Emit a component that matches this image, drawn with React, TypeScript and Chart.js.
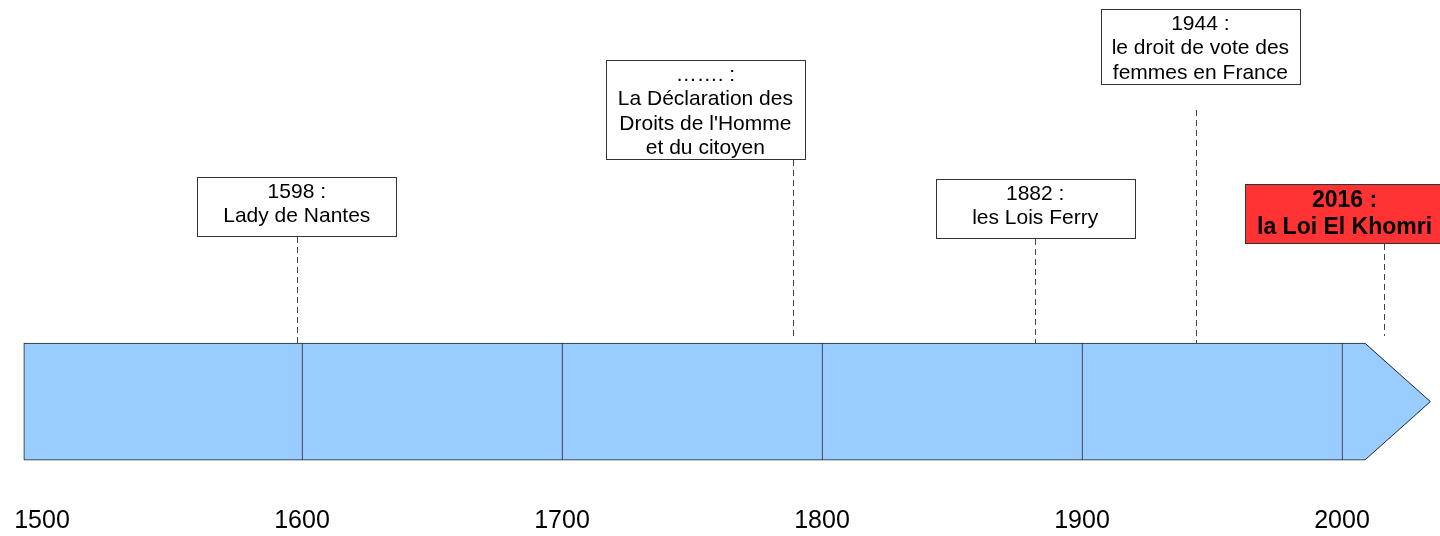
import React, { useEffect, useRef } from 'react';
import { Chart, registerables } from 'chart.js';

Chart.register(...registerables);

// ---------- data ----------
const centuryTicks = [1500, 1600, 1700, 1800, 1900, 2000];
const timelineStart = 1493;
const timelineEnd = 2009;
const arrowTip = 2034;
const eventYears = [1598, 1789, 1882, 1944, 2016];
const eventTitles = ['1598 :', '……. :', '1882 :', '1944 :', '2016 :'];
const eventTexts = [
  ['Lady de Nantes'],
  ['La Déclaration des', "Droits de l'Homme", 'et du citoyen'],
  ['les Lois Ferry'],
  ['le droit de vote des', 'femmes en France'],
  ['la Loi El Khomri'],
];
const eventHighlight = [false, false, false, false, true];

// ---------- layout / style ----------
const X_MIN = 1483.85;
const X_MAX = 2037.7;
const BAR_LEVEL = 17.7;
const BAR_THICKNESS = 117;
const BOX_W = 199;
const FONT = '"Liberation Sans", Arial, sans-serif';
const boxLayout: { dx: number; top: number; h: number; lineTop?: number; gap?: number }[] = [
  { dx: 0, top: 177, h: 59 },
  { dx: -88, top: 60, h: 99, gap: 5 },
  { dx: 0, top: 179, h: 59 },
  { dx: 4, top: 9, h: 75, lineTop: 110 },
  { dx: -39, top: 184, h: 59, gap: 7 },
];

const decorPlugin = {
  id: 'timelineDecor',
  afterDatasetsDraw(chart: any) {
    const ctx: CanvasRenderingContext2D = chart.ctx;
    const xs = chart.scales.x;
    const els = chart.getDatasetMeta(0).data;
    const last = els[els.length - 1];
    const { y: midY, height } = last.getProps(['y', 'height'], true);
    const barTop = midY - height / 2;
    const barBot = midY + height / 2;
    const endX = xs.getPixelForValue(timelineEnd);
    const tipX = xs.getPixelForValue(arrowTip);

    ctx.save();
    // arrow head
    ctx.beginPath();
    ctx.moveTo(endX - 1, barTop + 0.5);
    ctx.lineTo(endX, barTop + 0.5);
    ctx.lineTo(tipX, midY);
    ctx.lineTo(endX, barBot - 0.5);
    ctx.lineTo(endX - 1, barBot - 0.5);
    ctx.closePath();
    ctx.fillStyle = '#99CCFF';
    ctx.fill();
    ctx.beginPath();
    ctx.moveTo(endX - 1, barTop + 0.5);
    ctx.lineTo(endX, barTop + 0.5);
    ctx.lineTo(tipX, midY);
    ctx.lineTo(endX, barBot - 0.5);
    ctx.lineTo(endX - 1, barBot - 0.5);
    ctx.strokeStyle = '#222';
    ctx.lineWidth = 1;
    ctx.stroke();

    eventYears.forEach((yr, i) => {
      const L = boxLayout[i];
      const px = xs.getPixelForValue(yr);
      const cx = px + L.dx;
      const left = Math.round(cx - BOX_W / 2) + 0.5;
      const top = L.top + 0.5;
      // dashed connector
      ctx.save();
      ctx.setLineDash([6, 4]);
      ctx.strokeStyle = '#444';
      ctx.lineWidth = 1;
      const lx = Math.round(px) + 0.5;
      ctx.beginPath();
      ctx.moveTo(lx, L.lineTop ?? L.top + L.h + 1);
      ctx.lineTo(lx, barTop - (L.gap ?? 0));
      ctx.stroke();
      ctx.restore();
      // box
      const bold = eventHighlight[i];
      ctx.fillStyle = bold ? '#FF3333' : '#FFFFFF';
      ctx.fillRect(left, top, BOX_W, L.h);
      ctx.strokeStyle = '#333';
      ctx.lineWidth = 1;
      ctx.strokeRect(left, top, BOX_W, L.h);
      // text
      const size = bold ? 23 : 21;
      const lh = bold ? 26.7 : 24.4;
      const first = bold ? 23 : 21;
      ctx.font = `${bold ? 'bold ' : ''}${size}px ${FONT}`;
      ctx.fillStyle = '#000';
      ctx.textAlign = 'center';
      ctx.textBaseline = 'alphabetic';
      [eventTitles[i], ...eventTexts[i]].forEach((t, k) => {
        ctx.fillText(t, cx, L.top + first + k * lh);
      });
    });
    ctx.restore();
  },
};

export default function App() {
  const ref = useRef<HTMLCanvasElement>(null);
  useEffect(() => {
    document.body.style.margin = '0';
    const bounds = [timelineStart, ...centuryTicks.slice(1), timelineEnd];
    const segments = bounds.slice(0, -1).map((a, i) => ({ x: [a, bounds[i + 1]], y: BAR_LEVEL }));
    const chart = new Chart(ref.current as HTMLCanvasElement, {
      type: 'bar',
      data: {
        datasets: [
          {
            data: segments as any,
            backgroundColor: '#99CCFF',
            borderColor: '#222',
            borderWidth: { left: 1, top: 1, bottom: 1, right: 0 } as any,
            borderSkipped: false,
            barThickness: BAR_THICKNESS,
          },
        ],
      },
      options: {
        indexAxis: 'y',
        responsive: false,
        animation: false,
        events: [],
        layout: { padding: 0 },
        plugins: {
          legend: { display: false },
          tooltip: { enabled: false },
          title: { display: false },
        },
        scales: {
          x: {
            type: 'linear',
            min: X_MIN,
            max: X_MAX,
            bounds: 'data',
            grid: { display: false, drawTicks: false },
            border: { display: false },
            afterBuildTicks: (s: any) => {
              s.ticks = centuryTicks.map((v) => ({ value: v }));
            },
            ticks: {
              padding: 0,
              color: '#000',
              autoSkip: false,
              maxRotation: 0,
              font: { family: FONT, size: 25 },
              callback: (v: any) => String(v),
            },
          },
          y: { type: 'linear', display: false, min: 0, max: 100 },
        },
      } as any,
      plugins: [decorPlugin],
    });
    return () => chart.destroy();
  }, []);
  return (
    <canvas
      ref={ref}
      width={1440}
      height={536}
      style={{ display: 'block', position: 'absolute', left: 0, top: 0 }}
    />
  );
}
